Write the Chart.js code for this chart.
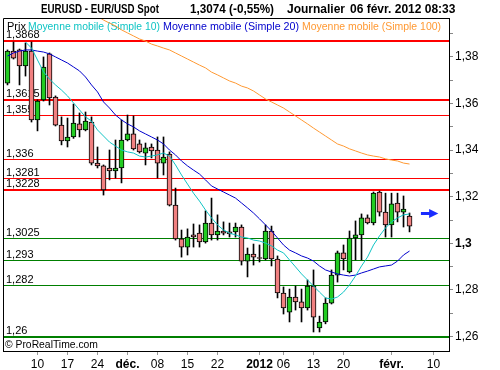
<!DOCTYPE html>
<html>
<head>
<meta charset="utf-8">
<script src="https://cdn.jsdelivr.net/npm/chart.js@4.4.0/dist/chart.umd.min.js"></script>
<style>
  html, body { margin: 0; padding: 0; background: #ffffff; }
</style>
</head>
<body>
<canvas id="chart" width="500" height="370"></canvas>
<script>
// Daily candles EUR/USD, 03 nov. 2011 -> 06 févr. 2012 (one entry per trading day)
const opens = [1.3687, 1.3824, 1.3829, 1.3760, 1.3824, 1.3529, 1.3615, 1.3812, 1.3627, 1.3507,
               1.3439, 1.3456, 1.3512, 1.3486, 1.3520, 1.3344, 1.3332, 1.3323, 1.3310, 1.3323,
               1.3443, 1.3469, 1.3426, 1.3387, 1.3413, 1.3400, 1.3344, 1.3383, 1.3164, 1.3019,
               1.2984, 1.3036, 1.3044, 1.3006, 1.3087, 1.3036, 1.3053, 1.3049, 1.3049, 1.3070,
               1.2924, 1.2954, 1.2939, 1.2933, 1.3053, 1.2933, 1.2787, 1.2705, 1.2770, 1.2749,
               1.2723, 1.2817, 1.2637, 1.2663, 1.2744, 1.2864, 1.2959, 1.2877, 1.3023, 1.3036,
               1.3109, 1.3087, 1.3220, 1.3134, 1.3079, 1.3173, 1.3134, 1.3117];
const highs = [1.3829, 1.3863, 1.3833, 1.3859, 1.3863, 1.3615, 1.3799, 1.3816, 1.3632, 1.3542,
               1.3537, 1.3597, 1.3559, 1.3563, 1.3542, 1.3413, 1.3336, 1.3400, 1.3443, 1.3529,
               1.3550, 1.3546, 1.3443, 1.3430, 1.3426, 1.3456, 1.3456, 1.3392, 1.3237, 1.3057,
               1.3062, 1.3083, 1.3079, 1.3139, 1.3194, 1.3122, 1.3092, 1.3087, 1.3087, 1.3079,
               1.2980, 1.2997, 1.2993, 1.3079, 1.3074, 1.2946, 1.2813, 1.2804, 1.2817, 1.2804,
               1.2843, 1.2886, 1.2688, 1.2766, 1.2886, 1.2967, 1.2993, 1.3053, 1.3096, 1.3126,
               1.3122, 1.3220, 1.3224, 1.3215, 1.3215, 1.3215, 1.3203, 1.3130];
const lows = [1.3679, 1.3790, 1.3679, 1.3717, 1.3520, 1.3482, 1.3610, 1.3593, 1.3503, 1.3422,
              1.3413, 1.3450, 1.3456, 1.3482, 1.3336, 1.3323, 1.3207, 1.3272, 1.3280, 1.3259,
              1.3439, 1.3400, 1.3387, 1.3336, 1.3366, 1.3280, 1.3293, 1.3160, 1.3014, 1.2941,
              1.2950, 1.2984, 1.2984, 1.3001, 1.3014, 1.3014, 1.3036, 1.3027, 1.3027, 1.2907,
              1.2856, 1.2907, 1.2920, 1.2929, 1.2903, 1.2766, 1.2697, 1.2663, 1.2714, 1.2663,
              1.2714, 1.2620, 1.2620, 1.2655, 1.2740, 1.2834, 1.2886, 1.2873, 1.2929, 1.2929,
              1.3083, 1.3079, 1.3117, 1.3027, 1.3027, 1.3092, 1.3070, 1.3049];
const closes = [1.3824, 1.3794, 1.3760, 1.3824, 1.3529, 1.3610, 1.3756, 1.3623, 1.3507, 1.3439,
                1.3456, 1.3516, 1.3486, 1.3524, 1.3344, 1.3332, 1.3229, 1.3310, 1.3323, 1.3443,
                1.3469, 1.3405, 1.3392, 1.3409, 1.3396, 1.3344, 1.3370, 1.3164, 1.3019, 1.2984,
                1.3027, 1.3027, 1.3006, 1.3087, 1.3036, 1.3053, 1.3044, 1.3040, 1.3070, 1.2924,
                1.2954, 1.2941, 1.2935, 1.3053, 1.2933, 1.2787, 1.2723, 1.2770, 1.2749, 1.2723,
                1.2817, 1.2684, 1.2663, 1.2744, 1.2864, 1.2959, 1.2933, 1.3023, 1.3036, 1.3109,
                1.3087, 1.3215, 1.3134, 1.3079, 1.3169, 1.3134, 1.3147, 1.3074];

// Moving averages (null = not shown)
const sma10 = [null, null, null, 1.3863, 1.3837, 1.3786, 1.3735, 1.3704, 1.3679, 1.3657,
               1.3632, 1.3602, 1.3572, 1.3542, 1.3524, 1.3486, 1.3460, 1.3434, 1.3417, 1.3400,
               1.3392, 1.3387, 1.3374, 1.3370, 1.3374, 1.3379, 1.3387, 1.3374, 1.3336, 1.3293,
               1.3254, 1.3215, 1.3181, 1.3143, 1.3109, 1.3079, 1.3057, 1.3044, 1.3036, 1.3027,
               1.3023, 1.3014, 1.3010, 1.3001, 1.2989, 1.2971, 1.2959, 1.2929, 1.2899, 1.2869,
               1.2843, 1.2817, 1.2791, 1.2766, 1.2761, 1.2770, 1.2791, 1.2822, 1.2860, 1.2903,
               1.2941, 1.2993, 1.3032, 1.3066, 1.3092, 1.3109, 1.3122, 1.3126];
const sma20 = [1.3803, 1.3816, 1.3824, 1.3829, 1.3829, 1.3824, 1.3820, 1.3812, 1.3799, 1.3786,
               1.3773, 1.3756, 1.3739, 1.3713, 1.3679, 1.3649, 1.3606, 1.3580, 1.3550, 1.3529,
               1.3512, 1.3499, 1.3482, 1.3469, 1.3456, 1.3443, 1.3426, 1.3400, 1.3379, 1.3353,
               1.3332, 1.3314, 1.3297, 1.3272, 1.3246, 1.3233, 1.3220, 1.3207, 1.3194, 1.3173,
               1.3152, 1.3130, 1.3105, 1.3079, 1.3053, 1.3023, 1.2993, 1.2971, 1.2959, 1.2946,
               1.2937, 1.2924, 1.2903, 1.2886, 1.2877, 1.2869, 1.2864, 1.2860, 1.2864, 1.2873,
               1.2881, 1.2890, 1.2899, 1.2903, 1.2907, 1.2924, 1.2950, 1.2967];
const sma100 = [null, null, null, null, null, null, null, null, null, null,
                null, null, null, null, 1.3991, 1.3974, 1.3957, 1.3944, 1.3932, 1.3915,
                1.3902, 1.3889, 1.3876, 1.3867, 1.3854, 1.3846, 1.3837, 1.3829, 1.3816, 1.3803,
                1.3790, 1.3777, 1.3764, 1.3752, 1.3734, 1.3722, 1.3709, 1.3696, 1.3687, 1.3674,
                1.3666, 1.3653, 1.3636, 1.3619, 1.3606, 1.3593, 1.3580, 1.3563, 1.3546, 1.3529,
                1.3512, 1.3494, 1.3477, 1.3460, 1.3443, 1.3426, 1.3417, 1.3405, 1.3396, 1.3387,
                1.3379, 1.3374, 1.3370, 1.3362, 1.3357, 1.3353, 1.3344, 1.3340];

// Support / resistance levels
const levelValues = [1.3868, 1.3615, 1.355, 1.336, 1.3281, 1.3228, 1.3025, 1.293, 1.282, 1.26];
const levelLabels = ['1,3868', '1,3615', '1,355', '1,336', '1,3281', '1,3228', '1,3025', '1,293', '1,282', '1,26'];

// Axis ticks
const xTickIdx = [5, 10, 15, 20, 25, 30, 35, 42, 46, 51, 56, 64, 71];
const xTickLabels = ['10', '17', '24', 'déc.', '08', '15', '22', '2012', '06', '13', '20', 'févr.', '10'];
const yTickValues = [1.26, 1.27, 1.28, 1.29, 1.30, 1.31, 1.32, 1.33, 1.34, 1.35, 1.36, 1.37, 1.38, 1.39];
const yTickLabels = ['1,26', '', '1,28', '', '1,3', '', '1,32', '', '1,34', '', '1,36', '', '1,38', ''];

const arrowLevel = 1.3128;

// ---- styles ----
const FONT = "'Liberation Sans', Arial, sans-serif";
const UP = '#22cc22', DOWN = '#f08080';
const levelColors = ['#ff0000', '#ff0000', '#ff0000', '#ff0000', '#ff0000', '#ff0000', '#007f00', '#007f00', '#007f00', '#007f00'];
const levelWidths = [2, 2, 1, 1, 1, 2, 1, 1, 1, 2];
const legendTexts = ['Prix', 'Moyenne mobile (Simple 10)', 'Moyenne mobile (Simple 20)', 'Moyenne mobile (Simple 100)'];
const legendColors = ['#000000', '#10c4c4', '#0000cc', '#ff9933'];
const legendX = [7, 28, 163, 302];
const legendW = [19, 132, 136, 139];

Chart.defaults.font.family = FONT;
Chart.defaults.font.size = 12;
Chart.defaults.color = '#000000';

const overlay = {
    id: 'overlay',
    beforeDatasetsDraw(chart) {
        const { ctx, chartArea: a, scales: { x, y } } = chart;
        ctx.save();
        ctx.font = '11px ' + FONT;
        ctx.textBaseline = 'alphabetic';
        levelValues.forEach((v, i) => {
            const w = levelWidths[i];
            const py = Math.round(y.getPixelForValue(v)) + (w % 2 ? 0.5 : 0);
            ctx.strokeStyle = levelColors[i];
            ctx.lineWidth = w;
            ctx.beginPath();
            ctx.moveTo(a.left, py);
            ctx.lineTo(a.right, py);
            ctx.stroke();
            ctx.fillStyle = '#000';
            ctx.fillText(levelLabels[i], a.left + 3, py - w / 2 - 2);
        });
        // legend inside the frame
        legendTexts.forEach((t, i) => {
            ctx.fillStyle = legendColors[i];
            ctx.fillText(t, legendX[i], a.top + 12, legendW[i]);
        });
        // copyright
        ctx.fillStyle = '#000';
        ctx.fillText('\u00a9 ProRealTime.com', a.left + 2, a.bottom - 3, 93);
        ctx.restore();
    },
    afterDatasetsDraw(chart) {
        const { ctx, chartArea: a, scales: { x, y } } = chart;
        ctx.save();
        // trend arrow
        const ay = Math.round(y.getPixelForValue(arrowLevel)) + 0.5;
        const x0 = x.getPixelForValue(68.9), x1 = x.getPixelForValue(70.6), x2 = x.getPixelForValue(71.8);
        ctx.fillStyle = '#1a2cff';
        ctx.fillRect(x0, ay - 1.5, x1 - x0, 3);
        ctx.beginPath();
        ctx.moveTo(x1 - 2, ay - 4.5);
        ctx.lineTo(x2, ay);
        ctx.lineTo(x1 - 2, ay + 4.5);
        ctx.closePath();
        ctx.fill();
        // frame (left and top)
        ctx.strokeStyle = '#000';
        ctx.lineWidth = 1;
        ctx.beginPath();
        ctx.moveTo(a.left + 0.5, a.bottom);
        ctx.lineTo(a.left + 0.5, a.top + 0.5);
        ctx.lineTo(a.right, a.top + 0.5);
        ctx.stroke();
        // title
        ctx.fillStyle = '#000';
        ctx.font = 'bold 12px ' + FONT;
        ctx.fillText('EURUSD - EUR/USD Spot', 41, 13, 118);
        ctx.fillText('1,3074 (-0,55%)', 190, 13, 84);
        ctx.fillText('Journalier', 287, 13, 58);
        ctx.fillText('06 févr. 2012 08:33', 350, 13, 108);
        ctx.restore();
    }
};

const pts = arr => arr.map((v, i) => ({ x: i, y: v }));

new Chart(document.getElementById('chart'), {
    type: 'bar',
    data: {
        datasets: [
            { type: 'line', data: pts(sma10), borderColor: '#10c4c4', borderWidth: 1, pointRadius: 0, order: 0 },
            { type: 'line', data: pts(sma20), borderColor: '#0000cc', borderWidth: 1, pointRadius: 0, order: 0 },
            { type: 'line', data: pts(sma100), borderColor: '#ff9933', borderWidth: 1, pointRadius: 0, order: 0 },
            {
                data: opens.map((o, i) => ({ x: i, y: [o, closes[i]] })),
                backgroundColor: opens.map((o, i) => closes[i] >= o ? UP : DOWN),
                borderColor: '#000',
                borderWidth: 1,
                borderSkipped: false,
                barThickness: 5,
                grouped: false,
                order: 1
            },
            {
                data: lows.map((l, i) => ({ x: i, y: [l, highs[i]] })),
                backgroundColor: '#000',
                borderWidth: 0,
                barThickness: 1,
                grouped: false,
                order: 2
            }
        ]
    },
    options: {
        responsive: false,
        animation: false,
        events: [],
        layout: { padding: { left: 3, top: 18, right: 0, bottom: 0 } },
        plugins: { legend: { display: false }, tooltip: { enabled: false } },
        scales: {
            x: {
                type: 'linear',
                offset: false,
                min: -0.75,
                max: 73.58,
                afterBuildTicks: s => { s.ticks = xTickIdx.map(v => ({ value: v })); },
                afterFit: s => { s.height = 19; },
                ticks: {
                    autoSkip: false,
                    maxRotation: 0,
                    padding: 2,
                    callback: (v, i) => xTickLabels[i],
                    font: c => ({ size: 12, weight: (xTickLabels[c.index] || '').length > 2 ? 'bold' : 'normal' })
                },
                grid: { drawOnChartArea: false, offset: false, tickLength: 4, tickColor: '#999999' },
                border: { color: '#000', width: 1 }
            },
            y: {
                type: 'linear',
                position: 'right',
                min: 1.25385,
                max: 1.39659,
                afterBuildTicks: s => { s.ticks = yTickValues.map(v => ({ value: v })); },
                afterFit: s => { s.width = 51; },
                ticks: {
                    autoSkip: false,
                    padding: 2,
                    callback: (v, i) => yTickLabels[i],
                    font: c => ({ size: 12, weight: yTickLabels[c.index] === '1,3' ? 'bold' : 'normal' })
                },
                grid: { drawOnChartArea: false, tickLength: 4, tickColor: '#888888' },
                border: { color: '#000', width: 1 }
            }
        }
    },
    plugins: [overlay]
});
</script>
</body>
</html>
